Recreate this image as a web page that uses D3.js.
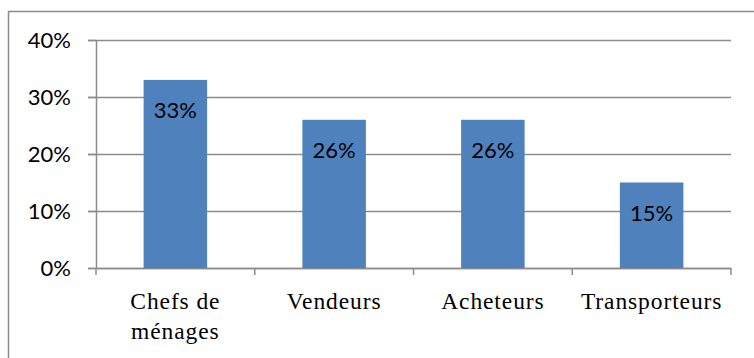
<!DOCTYPE html>
<html>
<head>
<meta charset="utf-8">
<script src="https://cdn.jsdelivr.net/npm/d3@7"></script>
<style>
  body { margin: 0; background: #fff; }
  .ylab text { font-family: Lato, "Open Sans", sans-serif; font-size: 22px; fill: #000; }
  .xlab { font-family: "Liberation Serif", "DejaVu Serif", serif; font-size: 23.5px; letter-spacing: 0.9px; fill: #000; }
  .val { font-family: Lato, "Open Sans", sans-serif; font-size: 22px; fill: #000; }
</style>
</head>
<body>
<div id="chart"></div>
<script>
var categories = [["Chefs de", "ménages"], ["Vendeurs"], ["Acheteurs"], ["Transporteurs"]];
var values = [0.33, 0.26, 0.26, 0.15];
var yTicks = [0, 0.1, 0.2, 0.3, 0.4];

var svgWidth = 754;
var svgHeight = 358;
var margin = { top: 40, right: 23, bottom: 90, left: 96 };
var width = svgWidth - margin.left - margin.right;
var height = 268 - margin.top;

var svg = d3.select("#chart")
  .append("svg")
  .attr("width", svgWidth)
  .attr("height", svgHeight);

// outer frame, runs off the right and bottom edges like in the original
svg.append("rect")
  .attr("x", 8.5)
  .attr("y", 11.5)
  .attr("width", 800)
  .attr("height", 400)
  .attr("fill", "none")
  .attr("stroke", "#8c8c8c")
  .attr("stroke-width", 1.5);

var chartGroup = svg.append("g")
  .attr("transform", `translate(${margin.left}, ${margin.top})`);

var x = d3.scaleBand()
  .domain(d3.range(categories.length))
  .range([0, width])
  .padding(0);

var y = d3.scaleLinear()
  .domain([0, 0.4])
  .range([height, 0]);

// gridlines
chartGroup.append("g")
  .selectAll("line")
  .data(yTicks)
  .enter()
  .append("line")
  .attr("x1", -8)
  .attr("x2", width)
  .attr("y1", d => Math.round(y(d)) + 0.5)
  .attr("y2", d => Math.round(y(d)) + 0.5)
  .attr("stroke", "#8c8c8c")
  .attr("stroke-width", 1.5);

// y axis
var yAxis = chartGroup.append("g")
  .attr("class", "ylab")
  .call(d3.axisLeft(y).tickValues(yTicks).tickFormat(d3.format(".0%")).tickSize(8).tickSizeOuter(0));
yAxis.select(".domain").attr("stroke", "#8c8c8c").attr("stroke-width", 1.5);
yAxis.selectAll(".tick line").attr("stroke", "#8c8c8c").attr("stroke-width", 1.5);
yAxis.selectAll(".tick text").attr("x", -25).attr("dy", "0.36em");

// x axis: ticks at category boundaries
var xAxis = chartGroup.append("g")
  .attr("transform", `translate(0, ${height})`);
xAxis.append("line")
  .attr("x1", 0).attr("x2", width)
  .attr("y1", 0.5).attr("y2", 0.5)
  .attr("stroke", "#8c8c8c").attr("stroke-width", 1.5);
xAxis.selectAll(".xt")
  .data(d3.range(categories.length + 1))
  .enter()
  .append("line")
  .attr("class", "xt")
  .attr("x1", d => d < categories.length ? x(d) : width)
  .attr("x2", d => d < categories.length ? x(d) : width)
  .attr("y1", 0).attr("y2", 7)
  .attr("stroke", "#8c8c8c").attr("stroke-width", 1.5);

// x labels
var xl = chartGroup.append("g")
  .selectAll("text")
  .data(categories)
  .enter()
  .append("text")
  .attr("class", "xlab")
  .attr("text-anchor", "middle")
  .attr("x", (d, i) => x(i) + x.bandwidth() / 2)
  .attr("y", height + 41);
xl.selectAll("tspan")
  .data(d => d)
  .enter()
  .append("tspan")
  .attr("x", function() { return d3.select(this.parentNode).attr("x"); })
  .attr("dy", (d, i) => i === 0 ? 0 : 30)
  .text(d => d);

// bars
var barW = x.bandwidth() * 0.4;
chartGroup.selectAll(".bar")
  .data(values)
  .enter()
  .append("rect")
  .attr("class", "bar")
  .attr("x", (d, i) => x(i) + (x.bandwidth() - barW) / 2)
  .attr("y", d => y(d))
  .attr("width", barW)
  .attr("height", d => height - y(d))
  .attr("fill", "#4f81bd");

// value labels
chartGroup.selectAll(".val")
  .data(values)
  .enter()
  .append("text")
  .attr("class", "val")
  .attr("text-anchor", "middle")
  .attr("x", (d, i) => x(i) + x.bandwidth() / 2)
  .attr("y", d => y(d) + 38)
  .text(d => d3.format(".0%")(d));
</script>
</body>
</html>
